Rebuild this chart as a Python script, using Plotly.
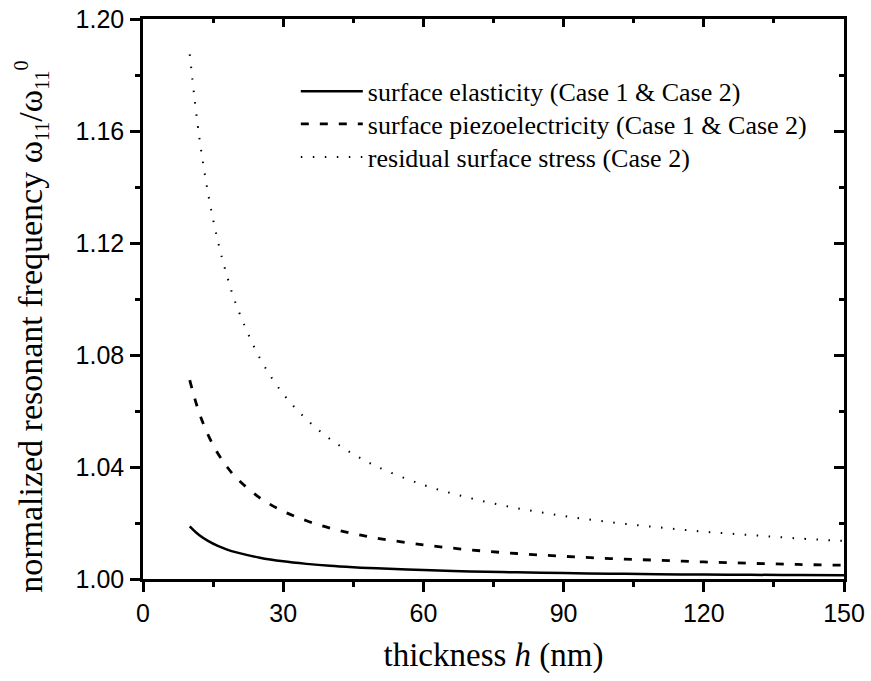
import plotly.graph_objects as go

# thickness h (nm)
h = [10, 12, 14, 16, 18, 20, 25, 30, 35, 40, 45, 50, 60, 70, 80, 90, 100, 110, 120, 130, 140, 150]

# normalized resonant frequency
surface_elasticity = [1.0188, 1.0157, 1.0135, 1.0118, 1.0105, 1.0095, 1.0076, 1.0063, 1.0054, 1.0047, 1.0042,
                      1.0038, 1.0032, 1.0027, 1.0024, 1.0021, 1.0019, 1.0017, 1.0016, 1.0015, 1.0014, 1.0013]
surface_piezo = [1.0710, 1.0595, 1.0512, 1.0449, 1.0400, 1.0361, 1.0290, 1.0242, 1.0208, 1.0182, 1.0162,
                 1.0146, 1.0122, 1.0104, 1.0091, 1.0081, 1.0073, 1.0067, 1.0061, 1.0056, 1.0052, 1.0049]
residual_stress = [1.1874, 1.1583, 1.1370, 1.1208, 1.1081, 1.0977, 1.0789, 1.0661, 1.0570, 1.0500, 1.0446,
                   1.0402, 1.0336, 1.0289, 1.0253, 1.0225, 1.0203, 1.0185, 1.0169, 1.0157, 1.0145, 1.0136]

names = ["surface elasticity (Case 1 & Case 2)",
         "surface piezoelectricity (Case 1 & Case 2)",
         "residual surface stress (Case 2)"]

x_ticks = [0, 30, 60, 90, 120, 150]
y_ticks = [1.00, 1.04, 1.08, 1.12, 1.16, 1.20]
y_tick_labels = ["1.00", "1.04", "1.08", "1.12", "1.16", "1.20"]

fig = go.Figure()
fig.add_trace(go.Scatter(x=h, y=surface_elasticity, mode="lines", name=names[0], legend="legend",
                         line=dict(color="black", width=2.5, shape="spline")))
fig.add_trace(go.Scatter(x=h, y=surface_piezo, mode="lines", name=names[1], legend="legend2",
                         line=dict(color="black", width=2.8, dash="8px,11px", shape="spline")))
fig.add_trace(go.Scatter(x=h, y=residual_stress, mode="lines", name=names[2], legend="legend3",
                         line=dict(color="black", width=2, dash="1.5px,10.5px", shape="spline")))
# invisible trace to carry the mirrored top/right axes
fig.add_trace(go.Scatter(x=h, y=residual_stress, mode="lines", xaxis="x2", yaxis="y2",
                         line=dict(color="rgba(0,0,0,0)"), showlegend=False, hoverinfo="skip"))

axis_common = dict(showgrid=False, zeroline=False, showline=True, linecolor="black", linewidth=2.5,
                   tickcolor="black", tickwidth=2.5, automargin=False)

legend_common = dict(x=0.218, xanchor="left", yanchor="middle", bgcolor="rgba(0,0,0,0)",
                     font=dict(family="Liberation Serif", size=26, color="black"),
                     itemwidth=62, tracegroupgap=0)

fig.update_layout(
    width=871, height=681,
    margin=dict(l=143, r=27, t=19, b=102),
    paper_bgcolor="white", plot_bgcolor="white",
    showlegend=True,
    legend=dict(**legend_common, y=0.871),
    legend2=dict(**legend_common, y=0.8125),
    legend3=dict(**legend_common, y=0.7536),
    xaxis=dict(**axis_common, range=[0, 150], tickmode="array", tickvals=x_ticks,
               ticks="outside", ticklen=10,
               minor=dict(dtick=15, ticks="outside", ticklen=5, tickwidth=2.5, tickcolor="black"),
               tickfont=dict(family="Liberation Sans", size=25, color="black"),
               title=dict(text="thickness <i>h</i> (nm)", standoff=18,
                          font=dict(family="Liberation Serif", size=33, color="black"))),
    yaxis=dict(**axis_common, range=[1.0, 1.2], tickmode="array", tickvals=y_ticks, ticktext=y_tick_labels,
               ticks="outside", ticklen=10, ticklabelstandoff=1,
               minor=dict(dtick=0.02, ticks="outside", ticklen=5, tickwidth=2.5, tickcolor="black"),
               tickfont=dict(family="Liberation Sans", size=25, color="black")),
    xaxis2=dict(**axis_common, overlaying="x", side="top", matches="x", range=[0, 150],
                tickmode="array", tickvals=x_ticks, ticks="inside", ticklen=8, showticklabels=False,
                minor=dict(dtick=15, ticks="inside", ticklen=4, tickwidth=2.5, tickcolor="black")),
    yaxis2=dict(**axis_common, overlaying="y", side="right", matches="y", range=[1.0, 1.2],
                tickmode="array", tickvals=y_ticks, ticks="inside", ticklen=10, showticklabels=False,
                minor=dict(dtick=0.02, ticks="inside", ticklen=5, tickwidth=2.5, tickcolor="black")),
    annotations=[dict(
        text="normalized resonant frequency ω<sub><span style='font-size:20px'>11</span></sub>/"
             "ω<sub><span style='font-size:20px'>11</span></sub><sup><span style='font-size:20px'>0</span></sup>",
        textangle=-90, xref="paper", yref="paper", x=-0.16, y=0.45,
        xanchor="center", yanchor="middle", showarrow=False,
        font=dict(family="Liberation Serif", size=34, color="black"))],
)

fig.write_html("out.html")
